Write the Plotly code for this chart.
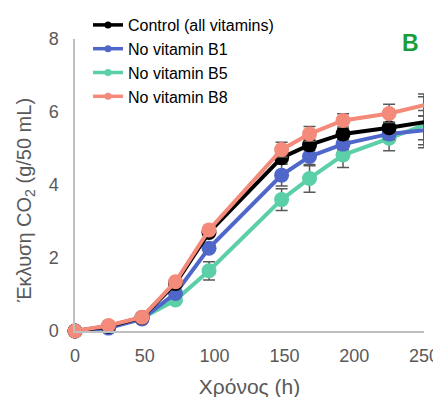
import plotly.graph_objects as go

hours = [0, 24, 48, 72, 96, 148, 168, 192, 225, 250]

series_names = ["Control (all vitamins)", "No vitamin B1", "No vitamin B5", "No vitamin B8"]
control = [0, 0.13, 0.37, 1.30, 2.70, 4.75, 5.10, 5.40, 5.57, 5.72]
control_err = [0.02, 0.02, 0.03, 0.08, 0.10, 0.15, 0.15, 0.15, 0.15, 0.70]
no_b1 = [0, 0.08, 0.33, 1.03, 2.27, 4.27, 4.78, 5.12, 5.40, 5.50]
no_b1_err = [0.02, 0.02, 0.03, 0.08, 0.10, 0.30, 0.25, 0.15, 0.15, 0.40]
no_b5 = [0, 0.10, 0.35, 0.85, 1.65, 3.60, 4.18, 4.82, 5.28, 5.64]
no_b5_err = [0.02, 0.02, 0.03, 0.05, 0.25, 0.30, 0.38, 0.34, 0.34, 0.40]
no_b8 = [0, 0.15, 0.38, 1.35, 2.77, 4.97, 5.40, 5.77, 5.96, 6.19]
no_b8_err = [0.02, 0.02, 0.03, 0.05, 0.10, 0.20, 0.20, 0.18, 0.25, 0.30]

colors = ["#000000", "#4F67C8", "#5ACFA8", "#F48A7A"]
values = [control, no_b1, no_b5, no_b8]
errors = [control_err, no_b1_err, no_b5_err, no_b8_err]

fig = go.Figure()

# legend entries
for name, col in zip(series_names, colors):
    fig.add_trace(go.Scatter(
        x=[None], y=[None], name=name, mode="lines+markers",
        line=dict(color=col, width=3.5), marker=dict(color=col, size=7, opacity=1),
        showlegend=True,
    ))

# data traces, drawn in overlap order
sizes = [15] * (len(hours) - 1) + [0]
for idx in [2, 1, 0, 3]:
    fig.add_trace(go.Scatter(
        x=hours, y=values[idx], name=series_names[idx], mode="lines+markers",
        line=dict(color=colors[idx], width=4),
        marker=dict(color=colors[idx], size=sizes, opacity=1, line=dict(width=0)),
        error_y=dict(type="data", array=errors[idx], visible=True,
                     color="#595959", thickness=1.5, width=6),
        cliponaxis=False,
        showlegend=False,
    ))

font_family = "Liberation Sans, Arial, sans-serif"

# page body adds an 8px offset; margins are given in figure coordinates
fig.update_layout(
    width=441, height=397,
    margin=dict(l=67, r=25, t=31, b=74, autoexpand=False),
    paper_bgcolor="white", plot_bgcolor="white",
    font=dict(family=font_family, color="#595959"),
    showlegend=True,
    legend=dict(
        xref="container", yref="container",
        x=80 / 441, y=1 + 6 / 397, xanchor="left", yanchor="top",
        font=dict(size=16, color="#000000", family=font_family),
        bgcolor="rgba(0,0,0,0)", tracegroupgap=0,
    ),
    xaxis=dict(
        range=[0, 250], tickvals=[0, 50, 100, 150, 200, 250],
        showgrid=False, zeroline=False,
        showline=True, linecolor="#BFBFBF", linewidth=1.5,
        ticks="", tickfont=dict(size=18, color="#595959"),
        ticklabelstandoff=8,
        title=dict(text="Χρόνος (h)", font=dict(size=21, color="#595959"), standoff=14),
    ),
    yaxis=dict(
        range=[0, 8], tickvals=[0, 2, 4, 6, 8],
        showgrid=False, zeroline=False,
        showline=True, linecolor="#BFBFBF", linewidth=1.5,
        ticks="", tickfont=dict(size=18, color="#595959"),
        ticklabelstandoff=11,
    ),
    annotations=[
        dict(
            x=0.992, y=0.985, xref="paper", yref="paper", xanchor="right", yanchor="middle",
            text="<b>B</b>", showarrow=False,
            font=dict(size=23, color="#1A9E3A", family=font_family),
        ),
        dict(
            x=-50 / 349, y=0.445, xref="paper", yref="paper", xanchor="center", yanchor="middle",
            text="Έκλυση CO<sub>2</sub> (g/50 mL)", textangle=-90, showarrow=False,
            font=dict(size=20, color="#595959", family=font_family),
        ),
    ],
)

fig.write_html("out.html")
